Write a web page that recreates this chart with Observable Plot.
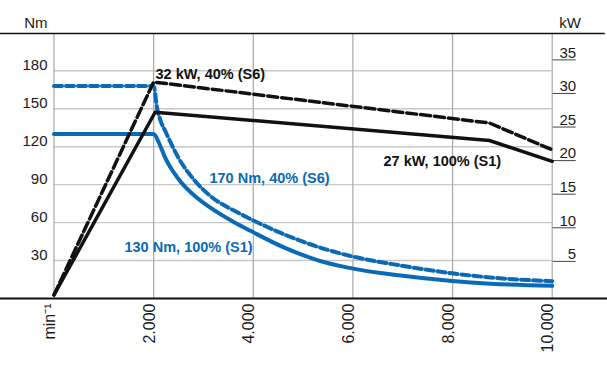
<!DOCTYPE html>
<html><head><meta charset="utf-8">
<script src="https://cdn.jsdelivr.net/npm/d3@7"></script>
<script src="https://cdn.jsdelivr.net/npm/@observablehq/plot@0.6"></script>
<style>html,body{margin:0;padding:0;background:#fff}svg{display:block}</style>
</head><body><div id="chart"></div>
<script>
// x (speed, min^-1)
const xTicks = [0, 2000, 4000, 6000, 8000, 10000];
const xTickLabels = ["min⁻¹", "2.000", "4.000", "6.000", "8.000", "10.000"];
// left axis (Nm)
const nmTicks = [30, 60, 90, 120, 150, 180];
const nmTop = 209.5;
// right axis (kW) and its placement against the Nm axis
const kwTicks = [5, 10, 15, 20, 25, 30, 35];
const kwZeroNm = 2.8;
const nmPerKw = 5.31;

// torque S1 (100%)
const torqueS1Rpm = [0, 2000, 2104, 2238, 2505, 2840, 3175, 3643, 3944, 4613, 5283, 5951, 6955, 7993, 8762, 10000];
const torqueS1Nm  = [130, 130, 123.3, 110.7, 94.1, 80.6, 70.8, 59.7, 53.5, 40.4, 30.4, 24.0, 18.1, 13.8, 11.7, 10.0];
// torque S6 (40%)
const torqueS6Rpm = [0, 2000, 2070, 2138, 2238, 2505, 2840, 3175, 3643, 3978, 4613, 5283, 5951, 6955, 7993, 8762, 10000];
const torqueS6Nm  = [168, 168, 150.2, 140.7, 132.0, 110.7, 92.5, 79.9, 68.9, 62.2, 50.8, 41.0, 33.6, 26.1, 19.9, 16.6, 13.7];
// power S1 / S6 (kW)
const powerS1Rpm = [0, 2030, 8740, 10000];
const powerS1Kw  = [0, 27.2, 23.0, 19.9];
const powerS6Rpm = [0, 2000, 8740, 10000];
const powerS6Kw  = [0, 31.7, 25.6, 21.6];

// annotations
const blackLabels = ["32 kW, 40% (S6)", "27 kW, 100% (S1)"];
const blackLabelRpm = [2037, 6614];
const blackLabelNm = [177.1, 108.3];
const blueLabels = ["170 Nm, 40% (S6)", "130 Nm, 100% (S1)"];
const blueLabelRpm = [3121, 1415];
const blueLabelNm = [94.9, 40.6];

const blue = "#0a6ab5";
const black = "#111";
const kwToNm = kw => kwZeroNm + kw * nmPerKw;
const rows = (xs, ys) => xs.map((x, i) => ({x, y: ys[i]}));

const chart = Plot.plot({
  width: 607, height: 370,
  marginLeft: 53.5, marginRight: 55.3, marginTop: 33, marginBottom: 72,
  x: {domain: [0, 10000], axis: null},
  y: {domain: [0, nmTop], axis: null},
  style: {fontFamily: "'Liberation Sans', Arial, Helvetica, sans-serif", background: "#fff", overflow: "visible"},
  marks: [
    Plot.ruleY(nmTicks, {stroke: "#c8c8c8", strokeWidth: 1.4}),
    Plot.ruleX(xTicks, {stroke: "#a8a8a8", strokeWidth: 1.2}),
    Plot.ruleY(kwTicks, {y: d => kwToNm(d), x1: 10000, x2: 10000, insetLeft: 1, insetRight: -24, stroke: "#444", strokeWidth: 1}),
    Plot.line(rows(torqueS6Rpm, torqueS6Nm), {x: "x", y: "y", stroke: blue, strokeWidth: 4, strokeDasharray: "8,4", curve: "monotone-x"}),
    Plot.line(rows(torqueS1Rpm, torqueS1Nm), {x: "x", y: "y", stroke: blue, strokeWidth: 4, curve: "monotone-x"}),
    Plot.line(rows(powerS6Rpm, powerS6Kw), {x: "x", y: d => kwToNm(d.y), stroke: black, strokeWidth: 3.5, strokeDasharray: "10,4"}),
    Plot.line(rows(powerS1Rpm, powerS1Kw), {x: "x", y: d => kwToNm(d.y), stroke: black, strokeWidth: 3.5}),
    Plot.ruleY([0], {insetLeft: -53.5, insetRight: -55.3, stroke: black, strokeWidth: 2}),
    Plot.ruleY([nmTop], {insetLeft: -53.5, insetRight: -53, stroke: black, strokeWidth: 1.4}),
    Plot.text(nmTicks, {x: 0, y: d => d, text: d => String(d), textAnchor: "end", dx: -6.5, dy: -5.5, fontSize: 15, fill: "#1a1a1a"}),
    Plot.text(kwTicks, {x: 10000, y: d => kwToNm(d), text: d => String(d), textAnchor: "end", dx: 24, dy: -7, fontSize: 15, fill: "#1a1a1a"}),
    Plot.text(["Nm"], {x: 0, y: nmTop, text: d => d, textAnchor: "end", dx: -6.5, dy: -10, fontSize: 15, fill: "#1a1a1a"}),
    Plot.text(["kW"], {x: 10000, y: nmTop, text: d => d, textAnchor: "start", dx: 7, dy: -10, fontSize: 15, fill: "#1a1a1a"}),
    Plot.text(xTicks, {x: d => d, y: 0, text: (d, i) => xTickLabels[i], rotate: -90, textAnchor: "end", lineAnchor: "bottom", dx: 1, dy: 5, fontSize: 16, fill: "#1a1a1a"}),
    Plot.text(blackLabels, {x: (d, i) => blackLabelRpm[i], y: (d, i) => blackLabelNm[i], text: d => d, textAnchor: "start", fontWeight: "bold", fontSize: 14.5, fill: black}),
    Plot.text(blueLabels, {x: (d, i) => blueLabelRpm[i], y: (d, i) => blueLabelNm[i], text: d => d, textAnchor: "start", fontWeight: "bold", fontSize: 14.5, fill: blue})
  ]
});
document.getElementById("chart").appendChild(chart);
</script>
</body></html>
